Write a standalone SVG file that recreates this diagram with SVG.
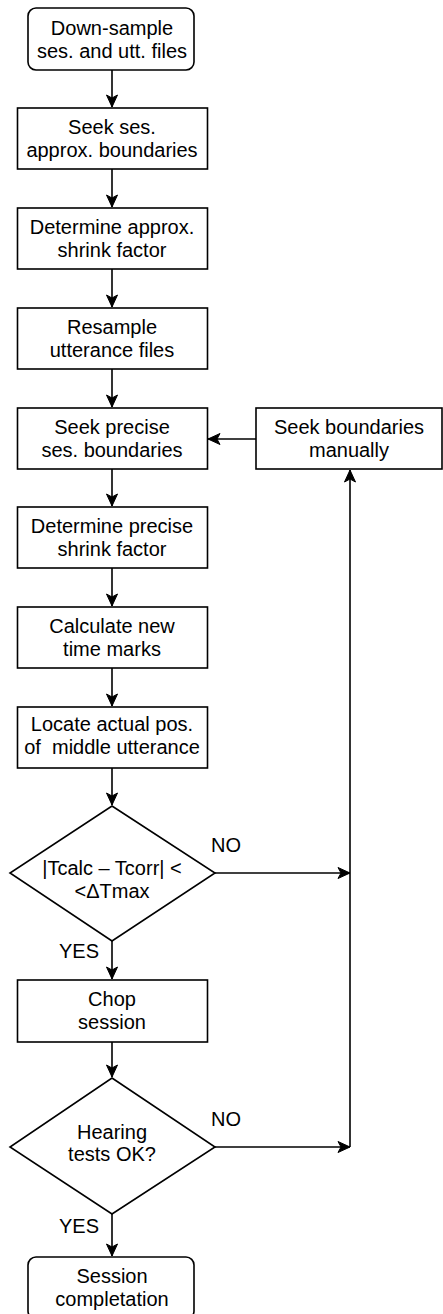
<svg xmlns="http://www.w3.org/2000/svg" width="443" height="1314" viewBox="0 0 443 1314">
<style>
.n{fill:#fff;stroke:#000;stroke-width:1.6}
.t{font-family:"Liberation Sans",Arial,sans-serif;font-size:20px;fill:#000;text-anchor:middle}
.l{font-family:"Liberation Sans",Arial,sans-serif;font-size:20px;fill:#000}
.c{fill:none;stroke:#000;stroke-width:1.6}
</style>
<defs>
<marker id="a" markerUnits="userSpaceOnUse" viewBox="-13 -7 14 14" refX="0" refY="0" markerWidth="14" markerHeight="14" orient="auto">
<path d="M0,0 L-12,-5.5 L-9,0 L-12,5.5 Z" fill="#000" stroke="#000" stroke-width="1"/>
</marker>
</defs>
<rect width="443" height="1314" fill="#fff"/>
<g id="connectors">
<line class="c" x1="112" y1="70" x2="112" y2="107" marker-end="url(#a)"/>
<line class="c" x1="112" y1="169" x2="112" y2="207" marker-end="url(#a)"/>
<line class="c" x1="112" y1="269" x2="112" y2="307" marker-end="url(#a)"/>
<line class="c" x1="112" y1="369" x2="112" y2="407" marker-end="url(#a)"/>
<line class="c" x1="112" y1="469" x2="112" y2="506" marker-end="url(#a)"/>
<line class="c" x1="112" y1="568" x2="112" y2="606" marker-end="url(#a)"/>
<line class="c" x1="112" y1="668" x2="112" y2="706" marker-end="url(#a)"/>
<line class="c" x1="112" y1="768" x2="112" y2="805" marker-end="url(#a)"/>
<line class="c" x1="112" y1="941" x2="112" y2="979" marker-end="url(#a)"/>
<line class="c" x1="112" y1="1042" x2="112" y2="1077" marker-end="url(#a)"/>
<line class="c" x1="112" y1="1214" x2="112" y2="1256" marker-end="url(#a)"/>
<line class="c" x1="215" y1="873" x2="350" y2="873" marker-end="url(#a)"/>
<line class="c" x1="215" y1="1147" x2="350" y2="1147" marker-end="url(#a)"/>
<line class="c" x1="350" y1="1147" x2="350" y2="470" marker-end="url(#a)"/>
<line class="c" x1="256" y1="439" x2="208" y2="439" marker-end="url(#a)"/>
<text class="l" x="211" y="852">NO</text>
<text class="l" x="211" y="1126">NO</text>
<text class="l" x="59" y="958">YES</text>
<text class="l" x="59" y="1233">YES</text>
</g>
<g id="n1"><rect class="n" x="28" y="8" width="166" height="62" rx="8"/>
<text class="t" x="112" y="34.5">Down-sample<tspan x="112" dy="23">ses. and utt. files</tspan></text></g>
<g id="n2"><rect class="n" x="17.5" y="108" width="190" height="61"/>
<text class="t" x="112" y="134">Seek ses.<tspan x="112" dy="23">approx. boundaries</tspan></text></g>
<g id="n3"><rect class="n" x="17.5" y="208" width="190" height="61"/>
<text class="t" x="112" y="234">Determine approx.<tspan x="112" dy="23">shrink factor</tspan></text></g>
<g id="n4"><rect class="n" x="17.5" y="308" width="190" height="61"/>
<text class="t" x="112" y="334">Resample<tspan x="112" dy="23">utterance files</tspan></text></g>
<g id="n5"><rect class="n" x="17.5" y="408" width="190" height="61"/>
<text class="t" x="112" y="433.5">Seek precise<tspan x="112" dy="23">ses. boundaries</tspan></text></g>
<g id="n6"><rect class="n" x="256" y="408" width="186" height="61"/>
<text class="t" x="349" y="433.5">Seek boundaries<tspan x="349" dy="23">manually</tspan></text></g>
<g id="n7"><rect class="n" x="17.5" y="507" width="190" height="61"/>
<text class="t" x="112" y="532.5">Determine precise<tspan x="112" dy="23">shrink factor</tspan></text></g>
<g id="n8"><rect class="n" x="17.5" y="607" width="190" height="61"/>
<text class="t" x="112" y="632.5">Calculate new<tspan x="112" dy="23">time marks</tspan></text></g>
<g id="n9"><rect class="n" x="17.5" y="707" width="190" height="61"/>
<text class="t" x="112" y="731" style="white-space:pre">Locate actual pos.<tspan x="112" dy="23">of  middle utterance</tspan></text></g>
<g id="n10"><polygon class="n" points="112,806 215,873 112,941 10,873"/>
<text class="t" x="112" y="874.5">|Tcalc – Tcorr| &lt;<tspan x="112" dy="23">&lt;ΔTmax</tspan></text></g>
<g id="n11"><rect class="n" x="17.5" y="980" width="190" height="62"/>
<text class="t" x="112" y="1006">Chop<tspan x="112" dy="23">session</tspan></text></g>
<g id="n12"><polygon class="n" points="112,1078 215,1147 112,1214 10,1147"/>
<text class="t" x="112" y="1139">Hearing<tspan x="112" dy="22">tests OK?</tspan></text></g>
<g id="n13"><rect class="n" x="28" y="1257" width="166" height="62" rx="8"/>
<text class="t" x="112" y="1283">Session<tspan x="112" dy="23">completation</tspan></text></g>
</svg>
